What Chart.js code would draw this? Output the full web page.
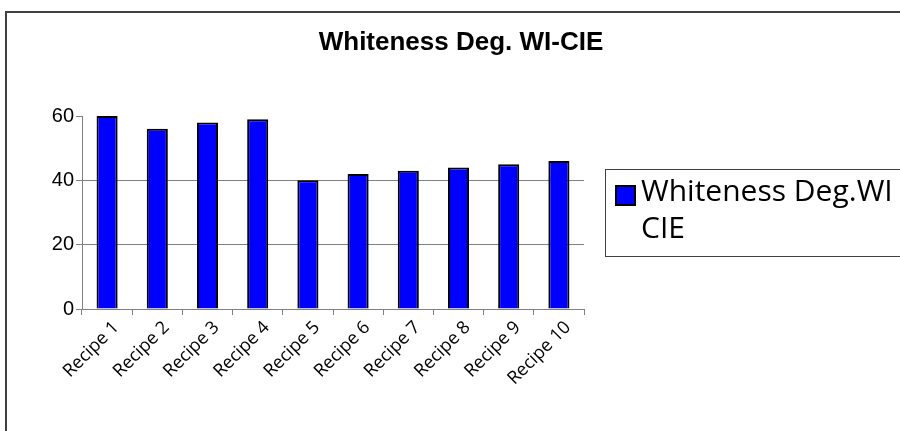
<!DOCTYPE html>
<html>
<head>
<meta charset="utf-8">
<script src="https://cdn.jsdelivr.net/npm/chart.js@4.4.1/dist/chart.umd.min.js"></script>
<style>
  html, body { margin: 0; padding: 0; background: #ffffff; }
  #wrap { position: relative; width: 900px; height: 431px; }
</style>
</head>
<body>
<div id="wrap"><canvas id="chart" width="900" height="431"></canvas></div>
<script>
// Categories and measured whiteness values
const categories = ['Recipe 1', 'Recipe 2', 'Recipe 3', 'Recipe 4', 'Recipe 5',
                    'Recipe 6', 'Recipe 7', 'Recipe 8', 'Recipe 9', 'Recipe 10'];
const whitenessValues = [60, 56, 58, 59, 40, 42, 43, 44, 45, 46];
const yTickValues = [0, 20, 40, 60];
const chartTitle = 'Whiteness Deg. WI-CIE';
const seriesLabel = 'Whiteness Deg.WI CIE';
const legendLines = ['Whiteness Deg.WI', 'CIE'];

const AXIS_GREY = '#808080';
const LABEL_FONT = '"Open Sans", "Noto Sans", sans-serif';

// Frame, title and a wrapped legend drawn on the chart canvas
const decorPlugin = {
  id: 'decor',
  afterDraw(chart) {
    const ctx = chart.ctx;
    ctx.save();
    // outer frame (top and left edges visible)
    ctx.strokeStyle = '#404040';
    ctx.lineWidth = 2;
    ctx.beginPath();
    ctx.moveTo(6, 440);
    ctx.lineTo(6, 12);
    ctx.lineTo(910, 12);
    ctx.stroke();

    // title
    ctx.fillStyle = '#000000';
    ctx.font = 'bold 26px "Liberation Sans", Arial, sans-serif';
    ctx.textAlign = 'center';
    ctx.textBaseline = 'alphabetic';
    ctx.fillText(chartTitle, 461, 50);

    // legend box
    const ds = chart.data.datasets[0];
    ctx.strokeStyle = '#404040';
    ctx.lineWidth = 1;
    ctx.strokeRect(605.5, 169.5, 320, 87);
    ctx.fillStyle = ds.backgroundColor;
    ctx.fillRect(616, 186, 19, 19);
    ctx.strokeStyle = '#000000';
    ctx.lineWidth = 2;
    ctx.strokeRect(616, 186, 19, 19);
    ctx.fillStyle = '#000000';
    ctx.font = '30px ' + LABEL_FONT;
    ctx.textAlign = 'left';
    ctx.fillText(legendLines[0], 641, 201);
    ctx.fillText(legendLines[1], 641, 238);
    ctx.restore();
  }
};

new Chart(document.getElementById('chart'), {
  type: 'bar',
  data: {
    labels: categories,
    datasets: [{
      label: seriesLabel,
      data: whitenessValues,
      backgroundColor: '#0000ff',
      borderColor: '#000000',
      borderWidth: 2,
      barPercentage: 0.42,
      categoryPercentage: 1.0
    }]
  },
  options: {
    responsive: false,
    animation: false,
    devicePixelRatio: 1,
    layout: { padding: { top: 116, right: 316, bottom: 0, left: 0 } },
    plugins: {
      legend: { display: false },
      title: { display: false },
      tooltip: { enabled: false }
    },
    scales: {
      x: {
        offset: true,
        grid: {
          offset: true,
          drawOnChartArea: false,
          tickLength: 6,
          tickColor: AXIS_GREY,
          color: AXIS_GREY
        },
        border: { display: true, color: AXIS_GREY, width: 1 },
        ticks: {
          minRotation: 45,
          maxRotation: 45,
          autoSkip: false,
          padding: 2,
          labelOffset: 9,
          color: '#000000',
          font: { family: LABEL_FONT, size: 18 }
        },
        afterFit(scale) { scale.height = 122; }
      },
      y: {
        min: 0,
        max: 60,
        afterBuildTicks(scale) {
          scale.ticks = yTickValues.map(v => ({ value: v }));
        },
        grid: {
          tickLength: 6,
          tickColor: AXIS_GREY,
          color: (c) => (c.tick && (c.tick.value === 20 || c.tick.value === 40)) ? AXIS_GREY : 'rgba(0,0,0,0)'
        },
        border: { display: true, color: AXIS_GREY, width: 1 },
        ticks: {
          padding: 2,
          color: '#000000',
          font: { family: '"Liberation Sans", Arial, sans-serif', size: 20 }
        },
        afterFit(scale) { scale.width = 82; }
      }
    }
  },
  plugins: [decorPlugin]
});
</script>
</body>
</html>
